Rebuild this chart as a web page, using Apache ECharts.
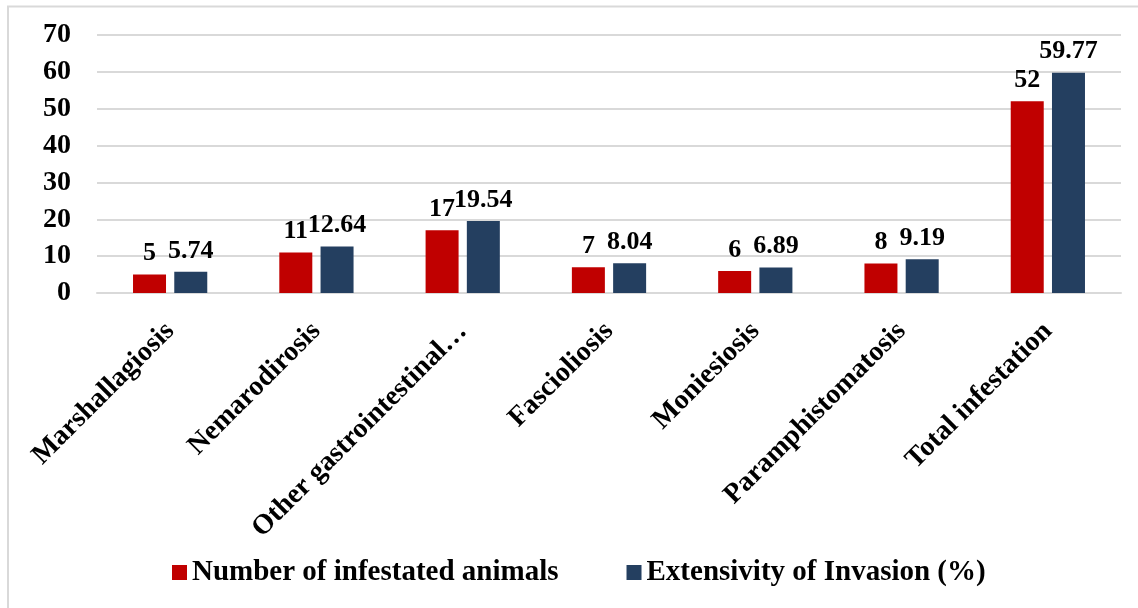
<!DOCTYPE html>
<html>
<head>
<meta charset="utf-8">
<script src="https://cdn.jsdelivr.net/npm/echarts@6/dist/echarts.min.js"></script>
<style>
  html, body { margin: 0; padding: 0; background: #ffffff; }
  #chart { width: 1138px; height: 608px; }
</style>
</head>
<body>
<div id="chart"></div>
<script>
// Parasitic infestation by disease
const categories = [
  'Marshallagiosis',
  'Nemarodirosis',
  'Other gastrointestinal\u2026',
  'Fascioliosis',
  'Moniesiosis',
  'Paramphistomatosis',
  'Total infestation'
];
const infestedAnimals = [5, 11, 17, 7, 6, 8, 52];
const invasionExtensivity = [5.74, 12.64, 19.54, 8.04, 6.89, 9.19, 59.77];
const seriesNames = ['Number of infestated animals', 'Extensivity of Invasion (%)'];
const yTicks = { min: 0, max: 70, interval: 10 };

const FONT = "'Liberation Serif', 'Times New Roman', serif";

const chart = echarts.init(document.getElementById('chart'), null, { renderer: 'canvas' });

const labelStyle = {
  show: true,
  position: 'top',
  distance: 8,
  fontFamily: FONT,
  fontWeight: 'bold',
  fontSize: 26,
  color: '#000000'
};

chart.setOption({
  backgroundColor: '#ffffff',
  animation: false,
  graphic: [{
    type: 'rect',
    shape: { x: 8, y: 6.5, width: 1300, height: 800 },
    style: { fill: 'none', stroke: '#d9d9d9', lineWidth: 2 },
    silent: true
  }],
  grid: { left: 97, right: 17, top: 35, bottom: 315, containLabel: false },
  legend: {
    bottom: 16,
    left: 167,
    itemWidth: 15,
    itemHeight: 15,
    itemGap: 68,
    icon: 'rect',
    textStyle: { fontFamily: FONT, fontWeight: 'bold', fontSize: 29, color: '#000000' },
    data: seriesNames
  },
  xAxis: {
    type: 'category',
    data: categories,
    axisLine: { lineStyle: { color: '#d9d9d9', width: 2 } },
    axisTick: { show: false },
    axisLabel: {
      interval: 0,
      rotate: 45,
      margin: 34,
      fontFamily: FONT,
      fontWeight: 'bold',
      fontSize: 28,
      color: '#000000'
    }
  },
  yAxis: {
    type: 'value',
    min: yTicks.min,
    max: yTicks.max,
    interval: yTicks.interval,
    axisLine: { show: false },
    axisTick: { show: false },
    splitLine: { lineStyle: { color: '#d9d9d9', width: 2 } },
    axisLabel: {
      margin: 26,
      fontFamily: FONT,
      fontWeight: 'bold',
      fontSize: 28,
      color: '#000000'
    }
  },
  series: [
    {
      name: seriesNames[0],
      type: 'bar',
      data: infestedAnimals,
      barWidth: 33,
      barGap: '25%',
      itemStyle: { color: '#c00000' },
      label: labelStyle
    },
    {
      name: seriesNames[1],
      type: 'bar',
      data: invasionExtensivity,
      barWidth: 33,
      barGap: '25%',
      itemStyle: { color: '#243f60' },
      label: labelStyle
    }
  ]
});
</script>
</body>
</html>
